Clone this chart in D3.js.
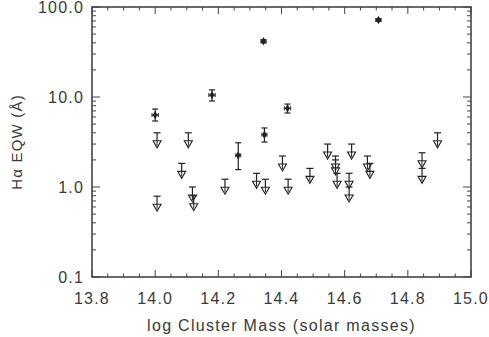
<!DOCTYPE html>
<html><head><meta charset="utf-8">
<script src="https://cdn.jsdelivr.net/npm/d3@7"></script>
<style>
html,body{margin:0;padding:0;background:#fff;}
svg{display:block;}
text{font-family:"Liberation Sans",Arial,sans-serif;fill:#3a3a3a;}
</style></head>
<body><svg id="c" width="489" height="337"></svg>
<script>
// Detections (with error bars)
const detX    = [14.00, 14.18, 14.343, 14.707, 14.419, 14.346, 14.263];
const detY    = [6.3,   10.5,  41.6,   71.7,   7.48,   3.81,   2.25];
const detYlo  = [5.41,  9.03,  40.0,   69.5,   6.64,   3.16,   1.56];
const detYhi  = [7.35,  12.0,  43.2,   74.0,   8.35,   4.53,   3.10];
const detXerr = [0.010, 0.010, 0.008,  0.008,  0.010,  0.008,  0.008];
// Upper limits
const limX = [14.006, 14.105, 14.084, 14.118, 14.006, 14.122, 14.221, 14.321, 14.349, 14.403, 14.421,
              14.49, 14.546, 14.571, 14.571, 14.576, 14.622, 14.614, 14.614, 14.672, 14.68, 14.845, 14.845, 14.894];
const limY = [4.0, 4.0, 1.83, 1.0, 0.79, 0.80, 1.22, 1.42, 1.22, 2.21, 1.22,
              1.61, 3.0, 2.21, 2.0, 1.42, 3.0, 1.42, 1.0, 2.21, 1.83, 2.40, 1.61, 4.0];
// Ticks
const xTicks = [13.8, 14.0, 14.2, 14.4, 14.6, 14.8, 15.0];
const xTickLabels = ["13.8", "14.0", "14.2", "14.4", "14.6", "14.8", "15.0"];
const yTicks = [0.1, 1, 10, 100];
const yTickLabels = ["0.1", "1.0", "10.0", "100.0"];
const xTitle = "log Cluster Mass (solar masses)";
const yTitle = "H\u03b1 EQW (\u00c5)";

const L = 92, R = 471, T = 7, B = 277;
const svg = d3.select("#c");
const x = d3.scaleLinear().domain([13.8, 15.0]).range([L, R]);
const y = d3.scaleLog().domain([0.1, 100]).range([B, T]);
const ink = "#222", axc = "#444";

// minor ticks
const xMinor = d3.range(13.8, 15.0001, 0.05).filter(v => !xTicks.some(t => Math.abs(t - v) < 1e-6));
const yMinor = [];
[0.1, 1, 10].forEach(d => { for (let k = 2; k <= 9; k++) yMinor.push(d * k); });

const g = svg.append("g");
const tick = (x1, y1, x2, y2, w) => g.append("line").attr("x1", x1).attr("y1", y1).attr("x2", x2).attr("y2", y2)
  .attr("stroke", axc).attr("stroke-width", w || 1);

xTicks.forEach(v => { tick(x(v), B, x(v), B - 7); tick(x(v), T, x(v), T + 7); });
xMinor.forEach(v => { tick(x(v), B, x(v), B - 3.5); tick(x(v), T, x(v), T + 3.5); });
yTicks.forEach(v => { tick(L, y(v), L + 8, y(v)); tick(R, y(v), R - 8, y(v)); });
yMinor.forEach(v => { tick(L, y(v), L + 4, y(v)); tick(R, y(v), R - 4, y(v)); });

g.append("rect").attr("x", L).attr("y", T).attr("width", R - L).attr("height", B - T)
  .attr("fill", "none").attr("stroke", axc).attr("stroke-width", 1.6);

// labels
xTicks.forEach((v, i) => g.append("text").attr("x", x(v)).attr("y", 304).attr("text-anchor", "middle")
  .attr("font-size", 16).attr("letter-spacing", "1.2px").text(xTickLabels[i]));
yTicks.forEach((v, i) => g.append("text").attr("x", 84).attr("y", y(v) + 6).attr("text-anchor", "end")
  .attr("font-size", 16).attr("letter-spacing", "1.2px").text(yTickLabels[i]));
g.append("text").attr("x", (L + R) / 2).attr("y", 331).attr("text-anchor", "middle")
  .attr("font-size", 16).attr("letter-spacing", "1.3px").text(xTitle);
g.append("text").attr("transform", `translate(22,${(T + B) / 2}) rotate(-90)`).attr("text-anchor", "middle")
  .attr("font-size", 15).attr("letter-spacing", "1.2px").text(yTitle);

// upper limits
const lim = svg.append("g");
limX.forEach((xv, i) => {
  const cx = x(xv), cy = y(limY[i]);
  lim.append("line").attr("x1", cx - 3.5).attr("x2", cx + 3.5).attr("y1", cy).attr("y2", cy).attr("stroke", ink).attr("stroke-width", 1.2);
  lim.append("line").attr("x1", cx).attr("x2", cx).attr("y1", cy).attr("y2", cy + 8).attr("stroke", ink).attr("stroke-width", 1.2);
  lim.append("path").attr("d", `M${cx - 4},${cy + 8}L${cx + 4},${cy + 8}L${cx},${cy + 15}Z`)
    .attr("fill", "#fff").attr("fill-opacity", 0.6).attr("stroke", ink).attr("stroke-width", 1.1);
  lim.append("line").attr("x1", cx).attr("x2", cx).attr("y1", cy + 8).attr("y2", cy + 13).attr("stroke", ink).attr("stroke-width", 1);
});

// detections
const det = svg.append("g");
detX.forEach((xv, i) => {
  const cx = x(xv), cy = y(detY[i]);
  const y1 = y(detYhi[i]), y2 = y(detYlo[i]);
  const x1 = x(xv - detXerr[i]), x2 = x(xv + detXerr[i]);
  det.append("line").attr("x1", cx).attr("x2", cx).attr("y1", y1).attr("y2", y2).attr("stroke", ink).attr("stroke-width", 1.2);
  [y1, y2].forEach(yy => det.append("line").attr("x1", cx - 3).attr("x2", cx + 3).attr("y1", yy).attr("y2", yy).attr("stroke", ink).attr("stroke-width", 1.2));
  det.append("line").attr("x1", x1).attr("x2", x2).attr("y1", cy).attr("y2", cy).attr("stroke", ink).attr("stroke-width", 1.2);
  [x1, x2].forEach(xx => det.append("line").attr("x1", xx).attr("x2", xx).attr("y1", cy - 2).attr("y2", cy + 2).attr("stroke", ink).attr("stroke-width", 1));
  det.append("path").attr("d", d3.symbol(d3.symbolDiamond, 20)()).attr("transform", `translate(${cx},${cy})`).attr("fill", ink);
});
</script></body></html>
